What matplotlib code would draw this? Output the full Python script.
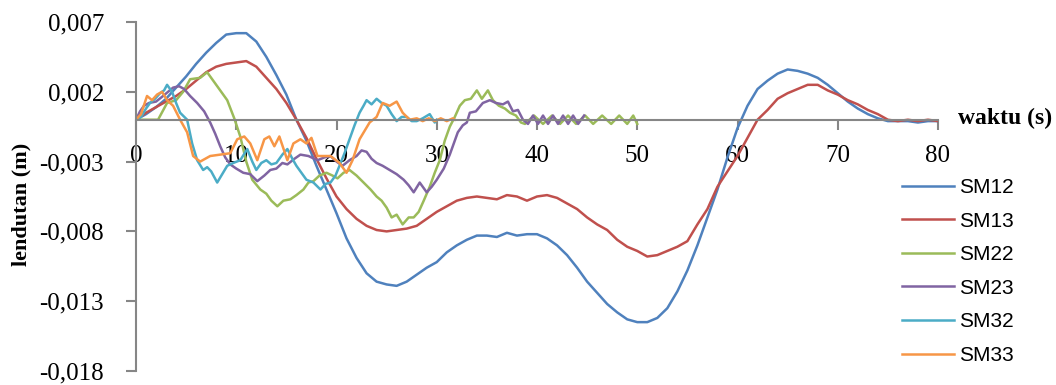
import matplotlib
matplotlib.use('Agg')
import matplotlib.pyplot as plt
from matplotlib.ticker import FuncFormatter

# time points (s) and deflection (m)
t_sm12 = [0, 1, 2, 3, 4, 5, 6, 7, 8, 9, 10, 11, 12, 13, 14, 15, 16, 17, 18, 19,
          20, 21, 22, 23, 24, 25, 26, 27, 28, 29, 30, 31, 32, 33, 34, 35, 36, 37, 38, 39,
          40, 41, 42, 43, 44, 45, 46, 47, 48, 49, 50, 51, 52, 53, 54, 55, 56, 57, 58, 59,
          60, 61, 62, 63, 64, 65, 66, 67, 68, 69, 70, 71, 72, 73, 74, 75, 76, 77, 78, 79, 80]
sm12 = [0, 0.0004, 0.0009, 0.0015, 0.0023, 0.0031, 0.0040, 0.0048, 0.0055, 0.0061,
        0.0062, 0.0062, 0.0056, 0.0045, 0.0032, 0.0018, 0.0000, -0.0015, -0.0033, -0.0050,
        -0.0067, -0.0085, -0.0099, -0.0110, -0.0116, -0.0118, -0.0119, -0.0116, -0.0111, -0.0106,
        -0.0102, -0.0095, -0.0090, -0.0086, -0.0083, -0.0083, -0.0084, -0.0081, -0.0083, -0.0082,
        -0.0082, -0.0085, -0.0090, -0.0097, -0.0106, -0.0116, -0.0124, -0.0132, -0.0138, -0.0143,
        -0.0145, -0.0145, -0.0142, -0.0135, -0.0123, -0.0108, -0.0090, -0.0070, -0.0050, -0.0027,
        -0.0006, 0.0010, 0.0022, 0.0028, 0.0033, 0.0036, 0.0035, 0.0033, 0.0030, 0.0025,
        0.0019, 0.0013, 0.0008, 0.0004, 0.0001, -0.0001, -0.0001, -0.0001, -0.0002, -0.0001, -0.0001]

t_sm13 = t_sm12
sm13 = [0, 0.0005, 0.0009, 0.0013, 0.0017, 0.0022, 0.0028, 0.0034, 0.0038, 0.0040,
        0.0041, 0.0042, 0.0038, 0.0030, 0.0022, 0.0012, 0.0000, -0.0013, -0.0028, -0.0042,
        -0.0055, -0.0064, -0.0071, -0.0076, -0.0079, -0.0080, -0.0079, -0.0078, -0.0076, -0.0071,
        -0.0066, -0.0062, -0.0058, -0.0056, -0.0055, -0.0056, -0.0057, -0.0054, -0.0055, -0.0058,
        -0.0055, -0.0054, -0.0056, -0.0060, -0.0064, -0.0070, -0.0075, -0.0079, -0.0086, -0.0091,
        -0.0094, -0.0098, -0.0097, -0.0094, -0.0091, -0.0087, -0.0075, -0.0064, -0.0048, -0.0037,
        -0.0026, -0.0013, 0.0000, 0.0007, 0.0015, 0.0019, 0.0022, 0.0025, 0.0025, 0.0021,
        0.0018, 0.0014, 0.0011, 0.0007, 0.0004, 0.0000, -0.0001, 0.0000, -0.0001, 0.0000, -0.0001]

t_sm22 = [0, 2.2, 3.1, 4.0, 4.7, 5.4, 6.4, 7.1, 8.1, 9.1, 9.8, 10.4, 11.0, 11.6, 12.4, 13.0,
          13.5, 14.1, 14.7, 15.4, 16.0, 16.7, 17.2, 17.7, 18.3, 19.0, 19.6, 20.1, 20.7, 21.3,
          22.0, 22.7, 23.4, 24.0, 24.5, 25.0, 25.5, 26.0, 26.6, 27.2, 27.7, 28.2, 28.7, 29.3,
          29.8, 30.3, 30.8, 31.3, 31.8, 32.3, 32.8, 33.4, 34.0, 34.5, 35.1, 35.6, 36.2, 36.8,
          37.3, 37.9, 38.4, 38.8, 39.7, 40.6, 41.5, 42.3, 43.1, 43.9, 44.8, 45.6, 46.5, 47.4,
          48.2, 49.0, 49.6, 50.0]
sm22 = [0, 0, 0.0012, 0.0014, 0.0020, 0.0029, 0.0030, 0.0034, 0.0024, 0.0014, 0.0001, -0.0012,
        -0.0030, -0.0043, -0.0050, -0.0053, -0.0058, -0.0062, -0.0058, -0.0057, -0.0054, -0.0050,
        -0.0045, -0.0044, -0.0040, -0.0038, -0.0040, -0.0042, -0.0038, -0.0036, -0.0040, -0.0045,
        -0.0050, -0.0055, -0.0058, -0.0063, -0.0070, -0.0068, -0.0075, -0.0070, -0.0070, -0.0066,
        -0.0058, -0.0048, -0.0038, -0.0029, -0.0015, -0.0005, 0.0002, 0.0010, 0.0014, 0.0015,
        0.0021, 0.0015, 0.0021, 0.0014, 0.0010, 0.0008, 0.0005, 0.0003, -0.0002, -0.0003, 0.0003,
        -0.0003, 0.0003, -0.0003, 0.0003, -0.0003, 0.0003, -0.0003, 0.0003, -0.0003, 0.0003,
        -0.0003, 0.0003, -0.0003]

t_sm23 = [0, 0.4, 0.8, 1.3, 2.0, 2.7, 3.2, 3.7, 4.3, 4.8, 5.4, 6.1, 6.8, 7.4, 7.9, 8.4, 8.9,
          9.4, 10.0, 10.7, 11.4, 12.1, 12.8, 13.4, 14.0, 14.6, 15.1, 15.8, 16.4, 17.2, 18.1,
          18.8, 19.4, 20.0, 20.6, 21.3, 22.0, 22.5, 23.0, 23.5, 24.0, 24.6, 25.3, 26.0, 26.7,
          27.2, 27.7, 28.3, 29.0, 29.5, 30.0, 30.7, 31.3, 32.1, 32.6, 33.0, 33.3, 33.9, 34.6,
          35.3, 35.9, 36.6, 37.1, 37.6, 38.1, 38.6, 39.1, 39.6, 40.1, 40.6, 41.1, 41.6, 42.1,
          42.6, 43.1, 43.6, 44.1, 44.7]
sm23 = [0, 0.0006, 0.0010, 0.0012, 0.0013, 0.0017, 0.0020, 0.0023, 0.0024, 0.0022, 0.0017,
        0.0012, 0.0006, -0.0002, -0.0010, -0.0019, -0.0027, -0.0032, -0.0035, -0.0038, -0.0039,
        -0.0044, -0.0040, -0.0036, -0.0035, -0.0031, -0.0032, -0.0028, -0.0025, -0.0026, -0.0029,
        -0.0027, -0.0026, -0.0030, -0.0033, -0.0029, -0.0026, -0.0022, -0.0023, -0.0028, -0.0031,
        -0.0033, -0.0036, -0.0039, -0.0043, -0.0047, -0.0052, -0.0045, -0.0052, -0.0048, -0.0043,
        -0.0035, -0.0025, -0.0009, -0.0004, -0.0002, 0.0005, 0.0006, 0.0012, 0.0014, 0.0012,
        0.0011, 0.0013, 0.0006, 0.0007, 0.0000, -0.0003, 0.0003, -0.0003, 0.0003, -0.0003,
        0.0003, -0.0003, 0.0003, -0.0003, 0.0003, -0.0003, 0.0003]

t_sm32 = [0, 0.5, 1.0, 1.4, 1.9, 2.4, 2.8, 3.1, 3.6, 4.0, 4.4, 5.1, 5.6, 6.1, 6.7, 7.1, 7.5,
          8.1, 8.6, 9.1, 9.7, 10.4, 11.1, 11.6, 12.0, 12.5, 13.0, 13.5, 14.0, 14.6, 15.1, 15.6,
          16.0, 16.5, 17.0, 17.7, 18.4, 18.9, 19.4, 19.9, 20.3, 20.8, 21.3, 21.8, 22.3, 22.7,
          23.0, 23.5, 24.0, 24.5, 25.0, 25.5, 26.0, 26.5, 27.0, 27.5, 28.0, 28.6, 29.3, 29.8, 30.0]
sm32 = [0, 0.0002, 0.0008, 0.0012, 0.0015, 0.0019, 0.0021, 0.0025, 0.0020, 0.0012, 0.0005,
        0.0000, -0.0017, -0.0029, -0.0036, -0.0034, -0.0037, -0.0045, -0.0039, -0.0033, -0.0031,
        -0.0029, -0.0021, -0.0030, -0.0036, -0.0031, -0.0029, -0.0032, -0.0031, -0.0025, -0.0021,
        -0.0028, -0.0033, -0.0038, -0.0043, -0.0045, -0.0050, -0.0046, -0.0045, -0.0040, -0.0033,
        -0.0024, -0.0014, -0.0004, 0.0005, 0.0010, 0.0014, 0.0011, 0.0015, 0.0012, 0.0010,
        0.0004, -0.0001, 0.0002, 0.0002, -0.0001, -0.0001, 0.0001, 0.0004, -0.0002, 0.0000]

t_sm33 = [0, 0.5, 1.1, 1.6, 2.1, 2.6, 3.1, 3.7, 4.4, 5.1, 5.7, 6.4, 7.4, 8.4, 9.4, 10.1, 10.8,
          11.4, 12.1, 12.8, 13.3, 13.8, 14.3, 15.1, 15.7, 16.4, 17.0, 17.5, 18.1, 19.4, 20.3,
          21.0, 21.6, 22.3, 23.3, 24.0, 24.6, 25.3, 26.0, 26.6, 27.3, 28.0, 28.6, 29.2, 29.8,
          30.4, 31.0, 31.6, 31.8]
sm33 = [0, 0.0004, 0.0017, 0.0014, 0.0018, 0.0020, 0.0014, 0.0010, 0.0000, -0.0009, -0.0026,
        -0.0030, -0.0026, -0.0025, -0.0024, -0.0014, -0.0012, -0.0017, -0.0029, -0.0014, -0.0012,
        -0.0019, -0.0012, -0.0029, -0.0017, -0.0014, -0.0017, -0.0013, -0.0026, -0.0026, -0.0031,
        -0.0038, -0.0029, -0.0014, -0.0002, 0.0002, 0.0012, 0.0010, 0.0013, 0.0005, 0.0000,
        0.0001, -0.0001, 0.0001, -0.0001, 0.0001, -0.0001, 0.0001, 0.0000]

series = [('SM12', t_sm12, sm12, '#4F81BD'),
          ('SM13', t_sm13, sm13, '#C0504D'),
          ('SM22', t_sm22, sm22, '#9BBB59'),
          ('SM23', t_sm23, sm23, '#8064A2'),
          ('SM32', t_sm32, sm32, '#4BACC6'),
          ('SM33', t_sm33, sm33, '#F79646')]

x_ticks = [0, 10, 20, 30, 40, 50, 60, 70, 80]
y_ticks = [-0.018, -0.013, -0.008, -0.003, 0.002, 0.007]

fig = plt.figure(figsize=(10.56, 3.85), dpi=100)
ax = fig.add_axes([136 / 1056, 1 - 371 / 385, (938 - 136) / 1056, (371 - 22) / 385])

for name, t, v, c in series:
    ax.plot(t, v, color=c, lw=1.8, label=name)

ax.set_xlim(0, 80)
ax.set_ylim(-0.018, 0.007)
ax.set_xticks(x_ticks)
ax.set_yticks(y_ticks)
ax.yaxis.set_major_formatter(FuncFormatter(lambda v, p: f'{v:.3f}'.replace('.', ',')))

# x axis crosses at zero
ax.spines['bottom'].set_position(('data', 0))
ax.spines['top'].set_visible(False)
ax.spines['right'].set_visible(False)
for s in ['left', 'bottom']:
    ax.spines[s].set_color('#868686')
    ax.spines[s].set_linewidth(1.5)

ax.tick_params(axis='both', direction='out', color='#868686', width=1.5, length=7,
               labelsize=18, labelcolor='black')
ax.tick_params(axis='y', pad=16)
ax.tick_params(axis='x', pad=11)
for lbl in ax.get_xticklabels() + ax.get_yticklabels():
    lbl.set_family('Liberation Serif')

fig.text(21 / 1056, 1 - 204 / 385, 'lendutan (m)', rotation=90, ha='center', va='center',
         family='Liberation Serif', fontweight='bold', fontsize=16)
fig.text(958 / 1056, 1 - 118 / 385, 'waktu (s)', ha='left', va='center',
         family='Liberation Serif', fontweight='bold', fontsize=17)

fig.legend(loc='upper left', bbox_to_anchor=(902 / 1056, 1 - 178 / 385), frameon=False,
           prop={'family': 'Liberation Sans', 'size': 15}, borderpad=0, borderaxespad=0,
           handlelength=2.5, handletextpad=0.25, labelspacing=0.7)

fig.savefig('out.png', dpi=100)
